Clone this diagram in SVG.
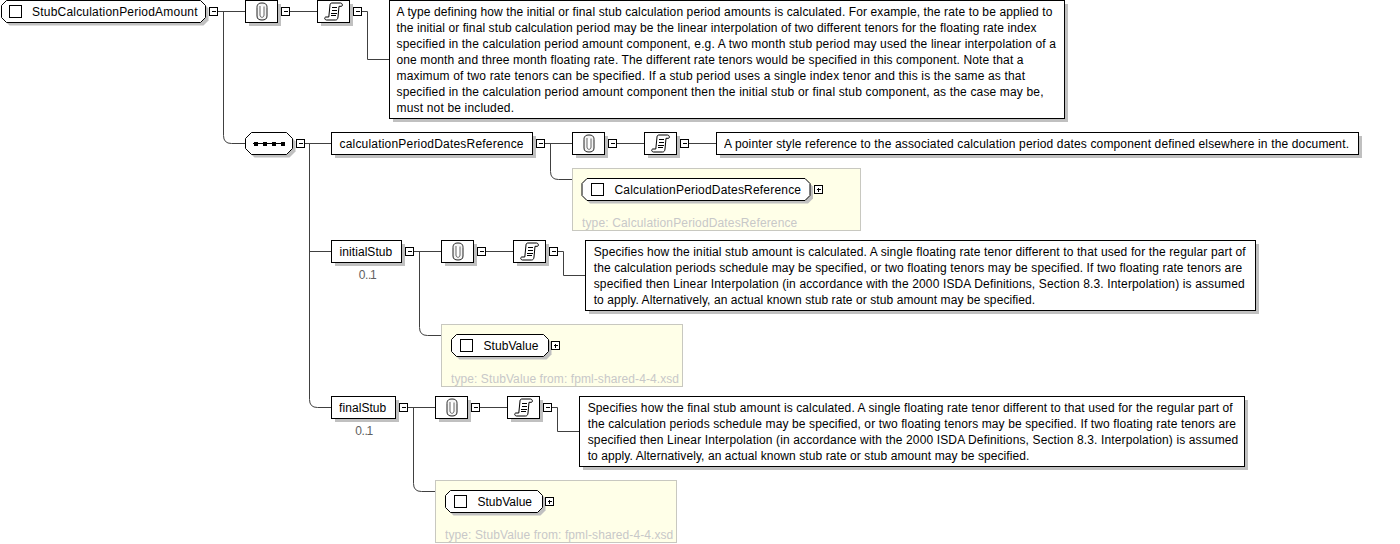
<svg xmlns="http://www.w3.org/2000/svg" xmlns:xlink="http://www.w3.org/1999/xlink" width="1400" height="544" viewBox="0 0 1400 544">
<style>
text{font-family:"Liberation Sans",Arial,sans-serif;font-size:12px;fill:#000;opacity:.999}
.box{fill:#fff;stroke:#000;stroke-width:1;shape-rendering:crispEdges}
.sh{fill:#c0c0c0;stroke:none;shape-rendering:crispEdges}
.oct{fill:#fff;stroke:#000;stroke-width:1}
.osh{fill:#c0c0c0;stroke:none}
.yel{fill:#ffffe8;stroke:#c8c8c0;stroke-width:1;shape-rendering:crispEdges}
.cn{fill:none;stroke:#404040;stroke-width:1}
text.ty{fill:#c8c8c8}
text.oc{fill:#606060}
.ic{fill:none;stroke:#000;stroke-width:1}
.btn{fill:#fff;stroke:#000;stroke-width:1;shape-rendering:crispEdges}
</style>
<defs>
<g id="minus"><rect class="btn" width="8" height="8"/><path class="ic" d="M2 4H6" shape-rendering="crispEdges"/></g>
<g id="plus"><rect class="btn" width="8" height="8"/><path class="ic" d="M2 4H6M4 2V6" shape-rendering="crispEdges"/></g>
<g id="clip"><rect class="sh" x="3" y="3" width="32" height="22"/><rect class="box" width="32" height="22"/>
<path d="M11.500 7C11.500 3.500 13.500 2.500 16.500 2.500S21.500 3.500 21.500 7V15.500C21.500 18.500 19.500 19.500 16.500 19.500S11.500 18.500 11.500 15.500Z" fill="#f4f4f4" stroke="#222"/>
<path d="M14.500 5.500V14.500C14.500 16 15.500 16.800 16.500 16.800S18.500 16 18.500 14.500V6" fill="#fff" stroke="#666"/></g>
<g id="scroll"><rect class="sh" x="3" y="3" width="32" height="22"/><rect class="box" width="32" height="22"/>
<path d="M12.500 4.500C12.500 3 13.500 2.500 14.500 2.500H23C25 2.500 25.500 5.500 24 5.800H21.500L20.500 16.500C20.300 18.500 19.500 19.500 18 19.500H9C7 19.500 6.500 16.500 8.500 16.500H11.300Z" fill="#fff" stroke="#000" stroke-linejoin="round"/>
<path d="M14 7H19.500M14 10H19.500M13.500 13H19M13.500 15H18.500" class="ic" shape-rendering="crispEdges"/></g>
</defs>
<g id="connectors">
<path class="cn" d="M217.500 11.500H245.500M223.500 11.500V135.500Q223.500 143.500 231.500 143.500H245.500"/>
<path class="cn" d="M289.500 11.500H317.500"/>
<path class="cn" d="M361.500 11.500H367.500V59.500H389.500"/>
<path class="cn" d="M304.500 143.500H331.500M309.500 143.500V399.500Q309.500 407.500 317.500 407.500H331.500M309.500 251.500H331.500"/>
<path class="cn" d="M544.500 143.500H572.500M550.500 143.500V171.500Q550.500 179.500 558.500 179.500H572.500"/>
<path class="cn" d="M616.500 143.500H644.500"/>
<path class="cn" d="M688.500 143.500H716.500"/>
<path class="cn" d="M413.500 251.500H441.500M419.500 251.500V327.500Q419.500 335.500 427.500 335.500H441.500"/>
<path class="cn" d="M485.500 251.500H513.500"/>
<path class="cn" d="M557.500 251.500H563.500V275.500H585.500"/>
<path class="cn" d="M407.500 407.500H435.500M413.500 407.500V483.500Q413.500 491.500 421.500 491.500H435.500"/>
<path class="cn" d="M479.500 407.500H507.500"/>
<path class="cn" d="M551.500 407.500H557.500V431.500H579.500"/>
</g>
<g id="node-root">
<polygon class="osh" points="9.500,3.500 203.500,3.500 208.500,8.500 208.500,20.500 203.500,25.500 9.500,25.500 4.500,20.500 4.500,8.500"/>
<polygon class="oct" points="6.500,0.500 200.500,0.500 205.500,5.500 205.500,17.500 200.500,22.500 6.500,22.500 1.500,17.500 1.500,5.500"/>
<rect class="box" x="9.500" y="5.500" width="12" height="12"/>
<text x="32" y="16" textLength="165.500">StubCalculationPeriodAmount</text>
<use xlink:href="#minus" x="209.500" y="7.500"/>
</g>
<g id="node-root-annotation"><use xlink:href="#clip" x="245.500" y="0.500"/><use xlink:href="#minus" x="281.500" y="7.500"/></g>
<g id="node-root-doc-icon"><use xlink:href="#scroll" x="317.500" y="0.500"/><use xlink:href="#minus" x="353.500" y="7.500"/></g>
<g id="node-root-doc">
<rect class="sh" x="392.500" y="3.500" width="675" height="118"/>
<rect class="box" x="389.500" y="0.500" width="675" height="118"/>
<text x="396.500" y="16" textLength="656">A type defining how the initial or final stub calculation period amounts is calculated. For example, the rate to be applied to</text>
<text x="396.500" y="32" textLength="640">the initial or final stub calculation period may be the linear interpolation of two different tenors for the floating rate index</text>
<text x="396.500" y="48" textLength="659.500">specified in the calculation period amount component, e.g. A two month stub period may used the linear interpolation of a</text>
<text x="396.500" y="64" textLength="627">one month and three month floating rate. The different rate tenors would be specified in this component. Note that a</text>
<text x="396.500" y="80" textLength="628.500">maximum of two rate tenors can be specified. If a stub period uses a single index tenor and this is the same as that</text>
<text x="396.500" y="96" textLength="647">specified in the calculation period amount component then the initial stub or final stub component, as the case may be,</text>
<text x="396.500" y="112" textLength="117.500">must not be included.</text>
</g>
<g id="node-sequence">
<polygon class="osh" points="254.500,135.500 289.500,135.500 295.500,141.500 295.500,151.500 289.500,157.500 254.500,157.500 248.500,151.500 248.500,141.500"/>
<polygon class="oct" points="251.500,132.500 286.500,132.500 292.500,138.500 292.500,148.500 286.500,154.500 251.500,154.500 245.500,148.500 245.500,138.500"/>
<path d="M253 143.500H284" stroke="#000" fill="none"/>
<path d="M253.500 141.500h4v4h-4zM262.500 141.500h4v4h-4zM271.500 141.500h4v4h-4zM280.500 141.500h4v4h-4z" fill="#000" shape-rendering="crispEdges"/>
<use xlink:href="#minus" x="296.500" y="139.500"/>
</g>
<g id="node-calculationPeriodDatesReference">
<rect class="sh" x="334.500" y="135.500" width="201" height="22"/>
<rect class="box" x="331.500" y="132.500" width="201" height="22"/>
<text x="339.500" y="148" textLength="184">calculationPeriodDatesReference</text>
<use xlink:href="#minus" x="536.500" y="139.500"/>
</g>
<g id="node-cpdr-annotation"><use xlink:href="#clip" x="572.500" y="132.500"/><use xlink:href="#minus" x="608.500" y="139.500"/></g>
<g id="node-cpdr-doc-icon"><use xlink:href="#scroll" x="644.500" y="132.500"/><use xlink:href="#minus" x="680.500" y="139.500"/></g>
<g id="node-cpdr-doc">
<rect class="sh" x="719.500" y="135.500" width="642" height="22"/>
<rect class="box" x="716.500" y="132.500" width="642" height="22"/>
<text x="724" y="148" textLength="625">A pointer style reference to the associated calculation period dates component defined elsewhere in the document.</text>
</g>
<g id="node-cpdr-type">
<rect class="yel" x="572.500" y="168.500" width="288" height="62"/>
<polygon class="osh" points="590,181.500 808,181.500 813,186.500 813,198.500 808,203.500 590,203.500 585,198.500 585,186.500"/>
<polygon class="oct" points="587,178.500 805,178.500 810,183.500 810,195.500 805,200.500 587,200.500 582,195.500 582,183.500"/>
<rect class="box" x="591.500" y="183.500" width="12" height="12"/>
<text x="614.500" y="194" textLength="186.500">CalculationPeriodDatesReference</text>
<use xlink:href="#plus" x="814.500" y="185.500"/>
<text class="ty" x="582" y="227" textLength="215.300">type: CalculationPeriodDatesReference</text>
</g>
<g id="node-initialStub">
<rect class="sh" x="334.500" y="243.500" width="70" height="22"/>
<rect class="box" x="331.500" y="240.500" width="70" height="22"/>
<text x="339.500" y="256" textLength="52.800">initialStub</text>
<text class="oc" x="358.700 365 368 370" y="279">0..1</text>
<use xlink:href="#minus" x="405.500" y="247.500"/>
</g>
<g id="node-initial-annotation"><use xlink:href="#clip" x="441.500" y="240.500"/><use xlink:href="#minus" x="477.500" y="247.500"/></g>
<g id="node-initial-doc-icon"><use xlink:href="#scroll" x="513.500" y="240.500"/><use xlink:href="#minus" x="549.500" y="247.500"/></g>
<g id="node-initial-doc">
<rect class="sh" x="588.500" y="243.500" width="670" height="70"/>
<rect class="box" x="585.500" y="240.500" width="670" height="70"/>
<text x="593.700" y="256" textLength="652">Specifies how the initial stub amount is calculated. A single floating rate tenor different to that used for the regular part of</text>
<text x="593.700" y="272" textLength="648.500">the calculation periods schedule may be specified, or two floating tenors may be specified. If two floating rate tenors are</text>
<text x="593.700" y="288" textLength="651">specified then Linear Interpolation (in accordance with the 2000 ISDA Definitions, Section 8.3. Interpolation) is assumed</text>
<text x="593.700" y="304" textLength="441.500">to apply. Alternatively, an actual known stub rate or stub amount may be specified.</text>
</g>
<g id="node-initial-type">
<rect class="yel" x="441.500" y="324.500" width="241" height="62"/>
<polygon class="osh" points="459.500,337.500 546.500,337.500 551.500,342.500 551.500,354.500 546.500,359.500 459.500,359.500 454.500,354.500 454.500,342.500"/>
<polygon class="oct" points="456.500,334.500 543.500,334.500 548.500,339.500 548.500,351.500 543.500,356.500 456.500,356.500 451.500,351.500 451.500,339.500"/>
<rect class="box" x="460.500" y="339.500" width="12" height="12"/>
<text x="483.500" y="350" textLength="55">StubValue</text>
<use xlink:href="#plus" x="551.500" y="341.500"/>
<text class="ty" x="451" y="383" textLength="228">type: StubValue from: fpml-shared-4-4.xsd</text>
</g>
<g id="node-finalStub">
<rect class="sh" x="334.500" y="399.500" width="64" height="22"/>
<rect class="box" x="331.500" y="396.500" width="64" height="22"/>
<text x="339" y="412" textLength="47.300">finalStub</text>
<text class="oc" x="355.200 361.500 364.500 366.500" y="435">0..1</text>
<use xlink:href="#minus" x="399.500" y="403.500"/>
</g>
<g id="node-final-annotation"><use xlink:href="#clip" x="435.500" y="396.500"/><use xlink:href="#minus" x="471.500" y="403.500"/></g>
<g id="node-final-doc-icon"><use xlink:href="#scroll" x="507.500" y="396.500"/><use xlink:href="#minus" x="543.500" y="403.500"/></g>
<g id="node-final-doc">
<rect class="sh" x="582.500" y="399.500" width="665" height="70"/>
<rect class="box" x="579.500" y="396.500" width="665" height="70"/>
<text x="587.700" y="412" textLength="645">Specifies how the final stub amount is calculated. A single floating rate tenor different to that used for the regular part of</text>
<text x="587.700" y="428" textLength="648.300">the calculation periods schedule may be specified, or two floating tenors may be specified. If two floating rate tenors are</text>
<text x="587.700" y="444" textLength="650.600">specified then Linear Interpolation (in accordance with the 2000 ISDA Definitions, Section 8.3. Interpolation) is assumed</text>
<text x="587.700" y="460" textLength="441.600">to apply. Alternatively, an actual known stub rate or stub amount may be specified.</text>
</g>
<g id="node-final-type">
<rect class="yel" x="435.500" y="480.500" width="241" height="62"/>
<polygon class="osh" points="453.500,493.500 540.500,493.500 545.500,498.500 545.500,510.500 540.500,515.500 453.500,515.500 448.500,510.500 448.500,498.500"/>
<polygon class="oct" points="450.500,490.500 537.500,490.500 542.500,495.500 542.500,507.500 537.500,512.500 450.500,512.500 445.500,507.500 445.500,495.500"/>
<rect class="box" x="454.500" y="495.500" width="12" height="12"/>
<text x="477.500" y="506" textLength="54.500">StubValue</text>
<use xlink:href="#plus" x="545.500" y="497.500"/>
<text class="ty" x="445" y="539" textLength="228.300">type: StubValue from: fpml-shared-4-4.xsd</text>
</g>
</svg>
